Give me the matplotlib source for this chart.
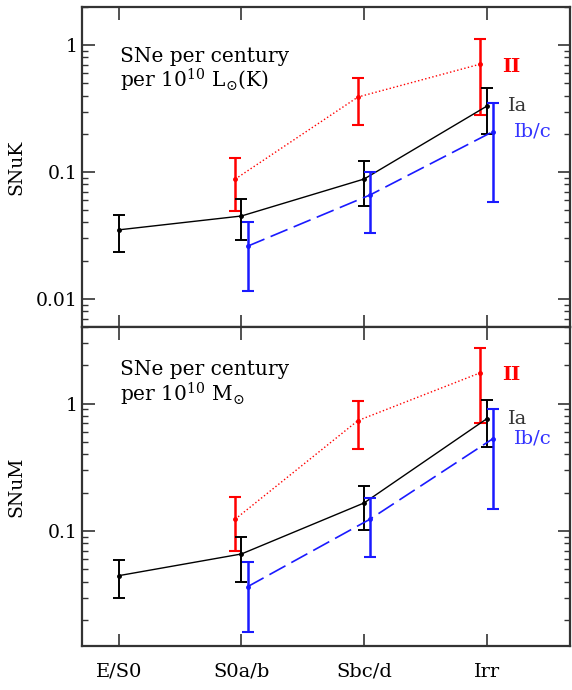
import matplotlib
matplotlib.use("Agg")
import matplotlib.pyplot as plt
from matplotlib.ticker import FixedLocator, LogLocator, NullFormatter, FuncFormatter
import numpy as np

categories = ["E/S0", "S0a/b", "Sbc/d", "Irr"]

# SNuK (top panel)
snuk_ia = [0.035, 0.045, 0.088, 0.33]
snuk_ia_lo = [0.0235, 0.029, 0.054, 0.20]
snuk_ia_hi = [0.046, 0.061, 0.122, 0.46]

snuk_ii = [0.088, 0.39, 0.71]
snuk_ii_lo = [0.049, 0.235, 0.28]
snuk_ii_hi = [0.129, 0.55, 1.11]

snuk_ibc = [0.026, 0.066, 0.208]
snuk_ibc_lo = [0.0115, 0.033, 0.058]
snuk_ibc_hi = [0.040, 0.100, 0.35]

# SNuM (bottom panel)
snum_ia = [0.0446, 0.066, 0.166, 0.76]
snum_ia_lo = [0.030, 0.040, 0.102, 0.46]
snum_ia_hi = [0.059, 0.090, 0.225, 1.07]

snum_ii = [0.124, 0.736, 1.75]
snum_ii_lo = [0.070, 0.437, 0.70]
snum_ii_hi = [0.184, 1.04, 2.74]

snum_ibc = [0.0365, 0.124, 0.53]
snum_ibc_lo = [0.016, 0.063, 0.15]
snum_ibc_hi = [0.057, 0.18, 0.91]

FONT = "DejaVu Serif"
plt.rcParams["font.family"] = FONT
plt.rcParams["mathtext.fontset"] = "dejavuserif"

fig = plt.figure(figsize=(5.72, 6.9), dpi=100)
left, width = 82 / 572, 488 / 572
ax1 = fig.add_axes([left, 1 - 327 / 690, width, 320 / 690])
ax2 = fig.add_axes([left, 1 - 646 / 690, width, 319 / 690])

x_all = np.arange(1, len(categories) + 1)
x_late = x_all[1:]
off = 0.05


def draw(ax, ia, ia_lo, ia_hi, ii, ii_lo, ii_hi, ibc, ibc_lo, ibc_hi):
    ia, ii, ibc = map(np.array, (ia, ii, ibc))
    ax.errorbar(x_late - off, ii,
                yerr=[ii - np.array(ii_lo), np.array(ii_hi) - ii],
                color="#ff0000", ls=":", lw=1.0, marker="o", ms=2.5,
                elinewidth=1.8, capsize=4, capthick=1.5, zorder=3)
    ax.errorbar(x_all, ia,
                yerr=[ia - np.array(ia_lo), np.array(ia_hi) - ia],
                color="black", ls="-", lw=1.0, marker="o", ms=2.5,
                elinewidth=1.4, capsize=4, capthick=1.4, zorder=4)
    ax.errorbar(x_late + off, ibc,
                yerr=[ibc - np.array(ibc_lo), np.array(ibc_hi) - ibc],
                color="#1a1aff", ls=(0, (11, 4)), lw=1.2, marker="o", ms=2.5,
                elinewidth=1.8, capsize=4, capthick=1.5, zorder=5)
    ax.set_yscale("log")
    ax.set_xlim(0.7, 4.68)
    ax.xaxis.set_major_locator(FixedLocator(x_all))
    ax.yaxis.set_minor_locator(LogLocator(base=10, subs=np.arange(2, 10)))
    ax.yaxis.set_minor_formatter(NullFormatter())
    ax.yaxis.set_major_formatter(FuncFormatter(lambda v, p: f"{v:g}"))
    ax.tick_params(which="both", direction="in", top=True, right=True,
                   colors="#333333", labelcolor="black", labelsize=13.5)
    ax.tick_params(which="major", length=9, width=1.2)
    ax.tick_params(which="minor", length=4.5, width=1.0)
    for s in ax.spines.values():
        s.set_linewidth(1.6)
        s.set_color("#333333")


draw(ax1, snuk_ia, snuk_ia_lo, snuk_ia_hi, snuk_ii, snuk_ii_lo, snuk_ii_hi,
     snuk_ibc, snuk_ibc_lo, snuk_ibc_hi)
draw(ax2, snum_ia, snum_ia_lo, snum_ia_hi, snum_ii, snum_ii_lo, snum_ii_hi,
     snum_ibc, snum_ibc_lo, snum_ibc_hi)

ax1.set_ylim(0.006, 2.0)
ax2.set_ylim(0.0125, 4.0)
ax1.set_xticklabels([])
ax2.set_xticklabels(categories, fontsize=14)
ax2.tick_params(axis="x", pad=12)

fig.text(16 / 572, 1 - 167 / 690, "SNuK", rotation=90, fontsize=13.5,
         ha="center", va="center")
fig.text(16 / 572, 1 - 487 / 690, "SNuM", rotation=90, fontsize=13.5,
         ha="center", va="center")

ax1.text(0.078, 0.875, "SNe per century\nper 10$^{10}$ L$_{\\odot}$(K)",
         transform=ax1.transAxes, fontsize=14.5, va="top", ha="left",
         linespacing=1.05)
ax2.text(0.078, 0.895, "SNe per century\nper 10$^{10}$ M$_{\\odot}$",
         transform=ax2.transAxes, fontsize=14.5, va="top", ha="left",
         linespacing=1.05)

# series labels at the right end of each series
for ax, ii, ia, ibc in ((ax1, snuk_ii, snuk_ia, snuk_ibc),
                        (ax2, snum_ii, snum_ia, snum_ibc)):
    ax.annotate("II", (x_all[-1], ii[-1]), xytext=(11, -2),
                textcoords="offset points", color="#ff0000", fontsize=14,
                fontweight="bold", va="center", ha="left")
    ax.annotate("Ia", (x_all[-1], ia[-1]), xytext=(15, 0),
                textcoords="offset points", color="#333333", fontsize=14,
                va="center", ha="left")
    ax.annotate("Ib/c", (x_all[-1], ibc[-1]), xytext=(20, 0),
                textcoords="offset points", color="#3333ff", fontsize=14,
                va="center", ha="left")

fig.savefig("out.png", dpi=100)
